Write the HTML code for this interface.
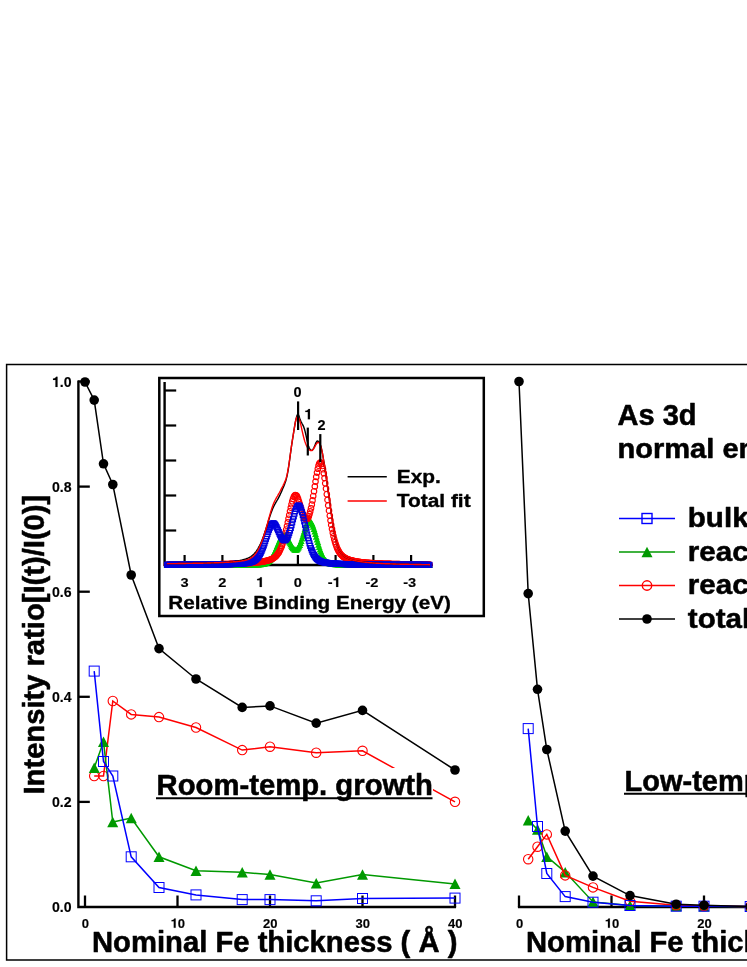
<!DOCTYPE html>
<html><head><meta charset="utf-8"><title>As 3d intensity ratio</title>
<style>html,body{margin:0;padding:0;background:#fff;}body{width:747px;height:967px;overflow:hidden;position:relative;font-family:"Liberation Sans",sans-serif;}</style>
</head><body>
<svg width="747" height="967" viewBox="0 0 747 967" style="display:block;position:absolute;left:0;top:0;will-change:transform" font-family="Liberation Sans, sans-serif" font-weight="bold" fill="#000">
<style>text{stroke:#000;stroke-width:0.55px;stroke-linejoin:round;paint-order:stroke fill}text.s{stroke-width:0.15px}text.m{stroke-width:0.35px}</style>
<rect width="747" height="967" fill="#fff"/>
<path d="M760 364.6H6.6V960.1H760" fill="none" stroke="#000" stroke-width="1.5"/>
<path d="M78.4 380.5V907H456.1" fill="none" stroke="#000" stroke-width="2.4"/>
<path d="M78 801.9H89.8" stroke="#000" stroke-width="2.3"/>
<path d="M78 696.8H89.8" stroke="#000" stroke-width="2.3"/>
<path d="M78 591.7H89.8" stroke="#000" stroke-width="2.3"/>
<path d="M78 486.6H89.8" stroke="#000" stroke-width="2.3"/>
<path d="M78 381.5H89.8" stroke="#000" stroke-width="2.3"/>
<path d="M85.0 907V895.5" stroke="#000" stroke-width="2.3"/>
<path d="M177.5 907V895.5" stroke="#000" stroke-width="2.3"/>
<path d="M270.0 907V895.5" stroke="#000" stroke-width="2.3"/>
<path d="M362.5 907V895.5" stroke="#000" stroke-width="2.3"/>
<path d="M455.0 907V895.5" stroke="#000" stroke-width="2.3"/>
<path d="M517.9 907H760" fill="none" stroke="#000" stroke-width="2.4"/>
<path d="M519.0 907V895.5" stroke="#000" stroke-width="2.3"/>
<path d="M611.5 907V895.5" stroke="#000" stroke-width="2.3"/>
<path d="M704.0 907V895.5" stroke="#000" stroke-width="2.3"/>
<text transform="translate(52.00 912.40) scale(1.000 1)" class="s" font-size="14.1">0</text><text transform="translate(59.84 912.40) scale(1.000 1)" class="s" font-size="14.1">.</text><text transform="translate(63.76 912.40) scale(1.000 1)" class="s" font-size="14.1">0</text>
<text transform="translate(52.00 807.30) scale(1.000 1)" class="s" font-size="14.1">0</text><text transform="translate(59.84 807.30) scale(1.000 1)" class="s" font-size="14.1">.</text><text transform="translate(63.76 807.30) scale(1.000 1)" class="s" font-size="14.1">2</text>
<text transform="translate(52.00 702.20) scale(1.000 1)" class="s" font-size="14.1">0</text><text transform="translate(59.84 702.20) scale(1.000 1)" class="s" font-size="14.1">.</text><text transform="translate(63.76 702.20) scale(1.000 1)" class="s" font-size="14.1">4</text>
<text transform="translate(52.00 597.10) scale(1.000 1)" class="s" font-size="14.1">0</text><text transform="translate(59.84 597.10) scale(1.000 1)" class="s" font-size="14.1">.</text><text transform="translate(63.76 597.10) scale(1.000 1)" class="s" font-size="14.1">6</text>
<text transform="translate(52.00 492.00) scale(1.000 1)" class="s" font-size="14.1">0</text><text transform="translate(59.84 492.00) scale(1.000 1)" class="s" font-size="14.1">.</text><text transform="translate(63.76 492.00) scale(1.000 1)" class="s" font-size="14.1">8</text>
<path transform="translate(52.00 386.90) scale(0.01410 -0.01410)" d="M246 0V498H72V588C176 590 262 640 288 716H392V0Z" stroke="#000" stroke-width="10" stroke-linejoin="round"/><text transform="translate(59.84 386.90) scale(1.000 1)" class="s" font-size="14.1">.</text><text transform="translate(63.76 386.90) scale(1.000 1)" class="s" font-size="14.1">0</text>
<text transform="translate(81.69 927.80) scale(1.000 1)" class="s" font-size="13">0</text>
<path transform="translate(170.57 927.80) scale(0.01300 -0.01300)" d="M246 0V498H72V588C176 590 262 640 288 716H392V0Z" stroke="#000" stroke-width="11" stroke-linejoin="round"/><text transform="translate(177.80 927.80) scale(1.000 1)" class="s" font-size="13">0</text>
<text transform="translate(263.07 927.80) scale(1.000 1)" class="s" font-size="13">2</text><text transform="translate(270.30 927.80) scale(1.000 1)" class="s" font-size="13">0</text>
<text transform="translate(355.57 927.80) scale(1.000 1)" class="s" font-size="13">3</text><text transform="translate(362.80 927.80) scale(1.000 1)" class="s" font-size="13">0</text>
<text transform="translate(448.07 927.80) scale(1.000 1)" class="s" font-size="13">4</text><text transform="translate(455.30 927.80) scale(1.000 1)" class="s" font-size="13">0</text>
<text transform="translate(515.89 927.80) scale(1.000 1)" class="s" font-size="13">0</text>
<path transform="translate(604.77 927.80) scale(0.01300 -0.01300)" d="M246 0V498H72V588C176 590 262 640 288 716H392V0Z" stroke="#000" stroke-width="11" stroke-linejoin="round"/><text transform="translate(612.00 927.80) scale(1.000 1)" class="s" font-size="13">0</text>
<text transform="translate(697.27 927.80) scale(1.000 1)" class="s" font-size="13">2</text><text transform="translate(704.50 927.80) scale(1.000 1)" class="s" font-size="13">0</text>
<polyline fill="none" stroke="#000" stroke-width="1.5" points="85.0,382.0 94.2,400.1 103.5,463.8 112.8,484.5 131.2,575.0 159.0,648.6 196.0,679.0 242.2,707.4 270.0,705.9 316.2,723.1 362.5,710.4 455.0,770.0"/>
<circle cx="85.0" cy="382.0" r="4.8" fill="#000"/><circle cx="94.2" cy="400.1" r="4.8" fill="#000"/><circle cx="103.5" cy="463.8" r="4.8" fill="#000"/><circle cx="112.8" cy="484.5" r="4.8" fill="#000"/><circle cx="131.2" cy="575.0" r="4.8" fill="#000"/><circle cx="159.0" cy="648.6" r="4.8" fill="#000"/><circle cx="196.0" cy="679.0" r="4.8" fill="#000"/><circle cx="242.2" cy="707.4" r="4.8" fill="#000"/><circle cx="270.0" cy="705.9" r="4.8" fill="#000"/><circle cx="316.2" cy="723.1" r="4.8" fill="#000"/><circle cx="362.5" cy="710.4" r="4.8" fill="#000"/><circle cx="455.0" cy="770.0" r="4.8" fill="#000"/>
<polyline fill="none" stroke="#ff0000" stroke-width="1.5" points="94.2,776.0 103.5,776.0 112.8,701.0 131.2,714.4 159.0,717.1 196.0,727.5 242.2,750.1 270.0,746.7 316.2,752.7 362.5,750.8 455.0,801.8"/>
<circle cx="94.2" cy="776.0" r="4.7" fill="none" stroke="#ff0000" stroke-width="1.1"/><circle cx="103.5" cy="776.0" r="4.7" fill="none" stroke="#ff0000" stroke-width="1.1"/><circle cx="112.8" cy="701.0" r="4.7" fill="none" stroke="#ff0000" stroke-width="1.1"/><circle cx="131.2" cy="714.4" r="4.7" fill="none" stroke="#ff0000" stroke-width="1.1"/><circle cx="159.0" cy="717.1" r="4.7" fill="none" stroke="#ff0000" stroke-width="1.1"/><circle cx="196.0" cy="727.5" r="4.7" fill="none" stroke="#ff0000" stroke-width="1.1"/><circle cx="242.2" cy="750.1" r="4.7" fill="none" stroke="#ff0000" stroke-width="1.1"/><circle cx="270.0" cy="746.7" r="4.7" fill="none" stroke="#ff0000" stroke-width="1.1"/><circle cx="316.2" cy="752.7" r="4.7" fill="none" stroke="#ff0000" stroke-width="1.1"/><circle cx="362.5" cy="750.8" r="4.7" fill="none" stroke="#ff0000" stroke-width="1.1"/><circle cx="455.0" cy="801.8" r="4.7" fill="none" stroke="#ff0000" stroke-width="1.1"/>
<polyline fill="none" stroke="#009900" stroke-width="1.5" points="94.2,767.8 103.5,741.8 112.8,822.0 131.2,818.0 159.0,856.8 196.0,870.8 242.2,872.3 270.0,874.5 316.2,883.1 362.5,874.5 455.0,883.9"/>
<path d="M94.2 762.5L99.8 773.0L88.8 773.0Z" fill="#009900"/><path d="M103.5 736.5L109.0 747.0L98.0 747.0Z" fill="#009900"/><path d="M112.8 816.8L118.2 827.2L107.2 827.2Z" fill="#009900"/><path d="M131.2 812.8L136.8 823.2L125.8 823.2Z" fill="#009900"/><path d="M159.0 851.5L164.5 862.0L153.5 862.0Z" fill="#009900"/><path d="M196.0 865.5L201.5 876.0L190.5 876.0Z" fill="#009900"/><path d="M242.2 867.0L247.8 877.5L236.8 877.5Z" fill="#009900"/><path d="M270.0 869.2L275.5 879.8L264.5 879.8Z" fill="#009900"/><path d="M316.2 877.9L321.8 888.4L310.8 888.4Z" fill="#009900"/><path d="M362.5 869.2L368.0 879.8L357.0 879.8Z" fill="#009900"/><path d="M455.0 878.6L460.5 889.1L449.5 889.1Z" fill="#009900"/>
<polyline fill="none" stroke="#0000ff" stroke-width="1.5" points="94.2,671.1 103.5,761.5 112.8,776.0 131.2,856.8 159.0,887.5 196.0,894.9 242.2,899.6 270.0,899.6 316.2,900.8 362.5,898.5 455.0,898.1"/>
<rect x="89.2" y="666.1" width="10" height="10" fill="none" stroke="#0000ff" stroke-width="1"/><rect x="98.5" y="756.5" width="10" height="10" fill="none" stroke="#0000ff" stroke-width="1"/><rect x="107.8" y="771.0" width="10" height="10" fill="none" stroke="#0000ff" stroke-width="1"/><rect x="126.2" y="851.8" width="10" height="10" fill="none" stroke="#0000ff" stroke-width="1"/><rect x="154.0" y="882.5" width="10" height="10" fill="none" stroke="#0000ff" stroke-width="1"/><rect x="191.0" y="889.9" width="10" height="10" fill="none" stroke="#0000ff" stroke-width="1"/><rect x="237.2" y="894.6" width="10" height="10" fill="none" stroke="#0000ff" stroke-width="1"/><rect x="265.0" y="894.6" width="10" height="10" fill="none" stroke="#0000ff" stroke-width="1"/><rect x="311.2" y="895.8" width="10" height="10" fill="none" stroke="#0000ff" stroke-width="1"/><rect x="357.5" y="893.5" width="10" height="10" fill="none" stroke="#0000ff" stroke-width="1"/><rect x="450.0" y="893.1" width="10" height="10" fill="none" stroke="#0000ff" stroke-width="1"/>
<polyline fill="none" stroke="#009900" stroke-width="1.5" points="528.2,820.2 537.5,829.5 546.8,856.6 565.2,872.1 593.0,901.9 630.0,905.5 676.2,906.0 704.0,906.3 750.2,906.5"/>
<path d="M528.2 815.0L533.8 825.5L522.8 825.5Z" fill="#009900"/><path d="M537.5 824.2L543.0 834.8L532.0 834.8Z" fill="#009900"/><path d="M546.8 851.4L552.2 861.9L541.2 861.9Z" fill="#009900"/><path d="M565.2 866.9L570.8 877.4L559.8 877.4Z" fill="#009900"/><path d="M593.0 896.6L598.5 907.1L587.5 907.1Z" fill="#009900"/><path d="M630.0 900.2L635.5 910.8L624.5 910.8Z" fill="#009900"/><path d="M676.2 900.8L681.8 911.2L670.8 911.2Z" fill="#009900"/><path d="M704.0 901.0L709.5 911.5L698.5 911.5Z" fill="#009900"/><path d="M750.2 901.2L755.8 911.8L744.8 911.8Z" fill="#009900"/>
<polyline fill="none" stroke="#ff0000" stroke-width="1.5" points="528.2,859.2 537.5,846.7 546.8,834.4 565.2,875.4 593.0,887.4 630.0,901.2 676.2,905.2 704.0,906.0 750.2,906.5"/>
<circle cx="528.2" cy="859.2" r="4.7" fill="none" stroke="#ff0000" stroke-width="1.1"/><circle cx="537.5" cy="846.7" r="4.7" fill="none" stroke="#ff0000" stroke-width="1.1"/><circle cx="546.8" cy="834.4" r="4.7" fill="none" stroke="#ff0000" stroke-width="1.1"/><circle cx="565.2" cy="875.4" r="4.7" fill="none" stroke="#ff0000" stroke-width="1.1"/><circle cx="593.0" cy="887.4" r="4.7" fill="none" stroke="#ff0000" stroke-width="1.1"/><circle cx="630.0" cy="901.2" r="4.7" fill="none" stroke="#ff0000" stroke-width="1.1"/><circle cx="676.2" cy="905.2" r="4.7" fill="none" stroke="#ff0000" stroke-width="1.1"/><circle cx="704.0" cy="906.0" r="4.7" fill="none" stroke="#ff0000" stroke-width="1.1"/><circle cx="750.2" cy="906.5" r="4.7" fill="none" stroke="#ff0000" stroke-width="1.1"/>
<polyline fill="none" stroke="#0000ff" stroke-width="1.5" points="528.2,728.6 537.5,826.5 546.8,873.5 565.2,896.6 593.0,902.2 630.0,905.5 676.2,906.2 704.0,906.2 750.2,906.5"/>
<rect x="523.2" y="723.6" width="10" height="10" fill="none" stroke="#0000ff" stroke-width="1"/><rect x="532.5" y="821.5" width="10" height="10" fill="none" stroke="#0000ff" stroke-width="1"/><rect x="541.8" y="868.5" width="10" height="10" fill="none" stroke="#0000ff" stroke-width="1"/><rect x="560.2" y="891.6" width="10" height="10" fill="none" stroke="#0000ff" stroke-width="1"/><rect x="588.0" y="897.2" width="10" height="10" fill="none" stroke="#0000ff" stroke-width="1"/><rect x="625.0" y="900.5" width="10" height="10" fill="none" stroke="#0000ff" stroke-width="1"/><rect x="671.2" y="901.2" width="10" height="10" fill="none" stroke="#0000ff" stroke-width="1"/><rect x="699.0" y="901.2" width="10" height="10" fill="none" stroke="#0000ff" stroke-width="1"/><rect x="745.2" y="901.5" width="10" height="10" fill="none" stroke="#0000ff" stroke-width="1"/>
<polyline fill="none" stroke="#000" stroke-width="1.5" points="519.0,381.5 528.2,593.6 537.5,689.3 546.8,749.5 565.2,831.1 593.0,876.1 630.0,895.6 676.2,904.2 704.0,905.2 750.2,906.5"/>
<circle cx="519.0" cy="381.5" r="4.8" fill="#000"/><circle cx="528.2" cy="593.6" r="4.8" fill="#000"/><circle cx="537.5" cy="689.3" r="4.8" fill="#000"/><circle cx="546.8" cy="749.5" r="4.8" fill="#000"/><circle cx="565.2" cy="831.1" r="4.8" fill="#000"/><circle cx="593.0" cy="876.1" r="4.8" fill="#000"/><circle cx="630.0" cy="895.6" r="4.8" fill="#000"/><circle cx="676.2" cy="904.2" r="4.8" fill="#000"/><circle cx="704.0" cy="905.2" r="4.8" fill="#000"/><circle cx="750.2" cy="906.5" r="4.8" fill="#000"/>
<text transform="translate(92 951.5) scale(1.008 1)" font-size="29">Nominal Fe thickness ( Å )</text>
<text transform="translate(526 951.5) scale(1.008 1)" font-size="29">Nominal Fe thickness ( Å )</text>
<text transform="translate(43.8 794.5) rotate(-90) scale(1.006 1)" font-size="29">Intensity ratio[I(t)/I(0)]</text>
<rect x="155" y="768" width="278" height="33" fill="#fff"/>
<text transform="translate(156.5 795.2) scale(1.01 1)" font-size="29">Room-temp. growth</text>
<path d="M156 798.3H432.5" stroke="#000" stroke-width="2"/>
<text x="624.5" y="790.7" font-size="29">Low-temp. growth</text>
<path d="M624 793.7H760" stroke="#000" stroke-width="2"/>
<text x="617.5" y="424.8" font-size="29">As 3d</text>
<text transform="translate(617.5 457.8) scale(1.02 1)" font-size="28.5">normal emission</text>
<path d="M619 518.5H675" stroke="#0000ff" stroke-width="1.4"/>
<rect x="642.0" y="513.5" width="10" height="10" fill="none" stroke="#0000ff" stroke-width="1.4"/>
<text transform="translate(687.8 527.4) scale(1.045 1)" font-size="28.3">bulk</text>
<path d="M619 552.0H675" stroke="#009900" stroke-width="1.4"/>
<path d="M647.0 546.8L652.5 557.2L641.5 557.2Z" fill="#009900"/>
<text transform="translate(687.8 560.9) scale(1.045 1)" font-size="28.3">reacted 1</text>
<path d="M619 585.5H675" stroke="#ff0000" stroke-width="1.4"/>
<circle cx="647.0" cy="585.5" r="4.7" fill="none" stroke="#ff0000" stroke-width="1.4"/>
<text transform="translate(687.8 594.4) scale(1.045 1)" font-size="28.3">reacted 2</text>
<path d="M619 619.0H675" stroke="#000" stroke-width="1.4"/>
<circle cx="647.0" cy="619.0" r="4.8" fill="#000"/>
<text transform="translate(687.8 627.9) scale(1.045 1)" font-size="28.3">total</text>
<rect x="159.3" y="378" width="324.5" height="238" fill="#fff" stroke="#000" stroke-width="2.5"/>
<defs><marker id="mt" markerWidth="8" markerHeight="8" refX="4" refY="4" markerUnits="userSpaceOnUse"><path d="M4 0.8L7.4 7H0.6Z" fill="#00cc00"/></marker><marker id="mc" markerWidth="8" markerHeight="8" refX="4" refY="4" markerUnits="userSpaceOnUse"><circle cx="4" cy="4" r="2.75" fill="none" stroke="#ff0000" stroke-width="1.15"/></marker><marker id="ms" markerWidth="8" markerHeight="8" refX="4" refY="4" markerUnits="userSpaceOnUse"><rect x="1.5" y="1.5" width="5" height="5" fill="none" stroke="#0000dd" stroke-width="1.1"/></marker></defs>
<path d="M164.6 382V565H433" fill="none" stroke="#000" stroke-width="2.4"/>
<path d="M164 390.5H176.2" stroke="#000" stroke-width="2.2"/>
<path d="M164 425.5H176.2" stroke="#000" stroke-width="2.2"/>
<path d="M164 460.5H176.2" stroke="#000" stroke-width="2.2"/>
<path d="M164 495.5H176.2" stroke="#000" stroke-width="2.2"/>
<path d="M164 530.5H176.2" stroke="#000" stroke-width="2.2"/>
<path d="M184.6 565V555" stroke="#000" stroke-width="2.2"/>
<text transform="translate(180.59 586.90) scale(1.090 1)" class="s" font-size="13.4">3</text>
<path d="M222.4 565V555" stroke="#000" stroke-width="2.2"/>
<text transform="translate(218.34 586.90) scale(1.090 1)" class="s" font-size="13.4">2</text>
<path d="M260.1 565V555" stroke="#000" stroke-width="2.2"/>
<path transform="translate(256.09 586.90) scale(0.01461 -0.01340)" d="M246 0V498H72V588C176 590 262 640 288 716H392V0Z" stroke="#000" stroke-width="11" stroke-linejoin="round"/>
<path d="M297.9 565V555" stroke="#000" stroke-width="2.2"/>
<text transform="translate(293.84 586.90) scale(1.090 1)" class="s" font-size="13.4">0</text>
<path d="M335.6 565V555" stroke="#000" stroke-width="2.2"/>
<text transform="translate(327.66 586.90) scale(1.090 1)" class="s" font-size="13.4">-</text><path transform="translate(332.52 586.90) scale(0.01461 -0.01340)" d="M246 0V498H72V588C176 590 262 640 288 716H392V0Z" stroke="#000" stroke-width="11" stroke-linejoin="round"/>
<path d="M373.4 565V555" stroke="#000" stroke-width="2.2"/>
<text transform="translate(365.41 586.90) scale(1.090 1)" class="s" font-size="13.4">-</text><text transform="translate(370.27 586.90) scale(1.090 1)" class="s" font-size="13.4">2</text>
<path d="M411.1 565V555" stroke="#000" stroke-width="2.2"/>
<text transform="translate(403.16 586.90) scale(1.090 1)" class="s" font-size="13.4">-</text><text transform="translate(408.02 586.90) scale(1.090 1)" class="s" font-size="13.4">3</text>
<polyline fill="none" stroke="none" points="167.0,565.0 167.8,565.0 168.5,565.0 169.2,565.0 170.0,565.0 170.8,565.0 171.5,565.0 172.2,565.0 173.0,565.0 173.8,564.9 174.5,564.9 175.2,564.9 176.0,564.9 176.8,564.9 177.5,564.9 178.2,564.9 179.0,564.9 179.8,564.9 180.5,564.9 181.2,564.9 182.0,564.9 182.8,564.9 183.5,564.9 184.2,564.9 185.0,564.9 185.8,564.9 186.5,564.9 187.2,564.9 188.0,564.9 188.8,564.9 189.5,564.9 190.2,564.9 191.0,564.9 191.8,564.9 192.5,564.9 193.2,564.9 194.0,564.9 194.8,564.9 195.5,564.9 196.2,564.9 197.0,564.9 197.8,564.9 198.5,564.9 199.2,564.9 200.0,564.9 200.8,564.9 201.5,564.9 202.2,564.9 203.0,564.9 203.8,564.9 204.5,564.9 205.2,564.9 206.0,564.9 206.8,564.9 207.5,564.9 208.2,564.9 209.0,564.9 209.8,564.9 210.5,564.9 211.2,564.9 212.0,564.9 212.8,564.9 213.5,564.9 214.2,564.9 215.0,564.9 215.8,564.9 216.5,564.9 217.2,564.9 218.0,564.9 218.8,564.9 219.5,564.9 220.2,564.9 221.0,564.9 221.8,564.9 222.5,564.9 223.2,564.9 224.0,564.9 224.8,564.9 225.5,564.8 226.2,564.8 227.0,564.8 227.8,564.8 228.5,564.8 229.2,564.8 230.0,564.8 230.8,564.8 231.5,564.8 232.2,564.8 233.0,564.8 233.8,564.8 234.5,564.8 235.2,564.8 236.0,564.8 236.8,564.8 237.5,564.8 238.2,564.8 239.0,564.8 239.8,564.8 240.5,564.7 241.2,564.7 242.0,564.7 242.8,564.7 243.5,564.7 244.2,564.7 245.0,564.7 245.8,564.7 246.5,564.7 247.2,564.7 248.0,564.7 248.8,564.6 249.5,564.6 250.2,564.6 251.0,564.6 251.8,564.6 252.5,564.6 253.2,564.6 254.0,564.5 254.8,564.5 255.5,564.5 256.2,564.5 257.0,564.4 257.8,564.4 258.5,564.4 259.2,564.3 260.0,564.3 260.8,564.2 261.5,564.1 262.2,564.0 263.0,563.9 263.8,563.7 264.5,563.5 265.2,563.3 266.0,563.0 266.8,562.6 267.5,562.1 268.2,561.6 269.0,561.0 269.8,560.2 270.5,559.4 271.2,558.4 272.0,557.2 272.8,556.0 273.5,554.6 274.2,553.1 275.0,551.4 275.8,549.7 276.5,547.9 277.2,546.1 278.0,544.3 278.8,542.5 279.5,540.8 280.2,539.3 281.0,537.9 281.8,536.8 282.5,535.9 283.2,535.4 284.0,535.2 284.8,535.3 285.5,535.7 286.2,536.4 287.0,537.4 287.8,538.6 288.5,539.9 289.2,541.4 290.0,542.8 290.8,544.3 291.5,545.7 292.2,546.9 293.0,548.0 293.8,548.8 294.5,549.4 295.2,549.7 296.0,549.7 296.8,549.4 297.5,548.7 298.2,547.8 299.0,546.5 299.8,544.9 300.5,543.0 301.2,540.9 302.0,538.6 302.8,536.2 303.5,533.8 304.2,531.4 305.0,529.0 305.8,526.8 306.5,524.9 307.2,523.3 308.0,522.1 308.8,521.3 309.5,521.0 310.2,521.3 311.0,522.0 311.8,523.2 312.5,524.8 313.2,526.7 314.0,529.0 314.8,531.5 315.5,534.1 316.2,536.8 317.0,539.5 317.8,542.1 318.5,544.7 319.2,547.1 320.0,549.4 320.8,551.5 321.5,553.4 322.2,555.1 323.0,556.6 323.8,557.9 324.5,559.1 325.2,560.0 326.0,560.8 326.8,561.5 327.5,562.1 328.2,562.5 329.0,562.9 329.8,563.2 330.5,563.4 331.2,563.6 332.0,563.8 332.8,563.9 333.5,564.0 334.2,564.1 335.0,564.2 335.8,564.2 336.5,564.3 337.2,564.3 338.0,564.4 338.8,564.4 339.5,564.4 340.2,564.4 341.0,564.5 341.8,564.5 342.5,564.5 343.2,564.5 344.0,564.5 344.8,564.6 345.5,564.6 346.2,564.6 347.0,564.6 347.8,564.6 348.5,564.6 349.2,564.6 350.0,564.7 350.8,564.7 351.5,564.7 352.2,564.7 353.0,564.7 353.8,564.7 354.5,564.7 355.2,564.7 356.0,564.7 356.8,564.7 357.5,564.7 358.2,564.8 359.0,564.8 359.8,564.8 360.5,564.8 361.2,564.8 362.0,564.8 362.8,564.8 363.5,564.8 364.2,564.8 365.0,564.8 365.8,564.8 366.5,564.8 367.2,564.8 368.0,564.8 368.8,564.8 369.5,564.8 370.2,564.8 371.0,564.8 371.8,564.8 372.5,564.8 373.2,564.8 374.0,564.9 374.8,564.9 375.5,564.9 376.2,564.9 377.0,564.9 377.8,564.9 378.5,564.9 379.2,564.9 380.0,564.9 380.8,564.9 381.5,564.9 382.2,564.9 383.0,564.9 383.8,564.9 384.5,564.9 385.2,564.9 386.0,564.9 386.8,564.9 387.5,564.9 388.2,564.9 389.0,564.9 389.8,564.9 390.5,564.9 391.2,564.9 392.0,564.9 392.8,564.9 393.5,564.9 394.2,564.9 395.0,564.9 395.8,564.9 396.5,564.9 397.2,564.9 398.0,564.9 398.8,564.9 399.5,564.9 400.2,564.9 401.0,564.9 401.8,564.9 402.5,564.9 403.2,564.9 404.0,564.9 404.8,564.9 405.5,564.9 406.2,564.9 407.0,564.9 407.8,564.9 408.5,564.9 409.2,564.9 410.0,564.9 410.8,564.9 411.5,564.9 412.2,564.9 413.0,564.9 413.8,564.9 414.5,564.9 415.2,564.9 416.0,564.9 416.8,564.9 417.5,564.9 418.2,564.9 419.0,564.9 419.8,564.9 420.5,564.9 421.2,564.9 422.0,564.9 422.8,564.9 423.5,564.9 424.2,564.9 425.0,565.0 425.8,565.0 426.5,565.0 427.2,565.0 428.0,565.0 428.8,565.0 429.5,565.0" marker-start="url(#mt)" marker-mid="url(#mt)" marker-end="url(#mt)"/>
<polyline fill="none" stroke="none" points="167.0,564.7 167.8,564.7 168.5,564.7 169.2,564.7 170.0,564.7 170.8,564.7 171.5,564.7 172.2,564.7 173.0,564.7 173.8,564.6 174.5,564.6 175.2,564.6 176.0,564.6 176.8,564.6 177.5,564.6 178.2,564.6 179.0,564.6 179.8,564.6 180.5,564.6 181.2,564.6 182.0,564.6 182.8,564.6 183.5,564.6 184.2,564.6 185.0,564.6 185.8,564.6 186.5,564.6 187.2,564.6 188.0,564.6 188.8,564.6 189.5,564.5 190.2,564.5 191.0,564.5 191.8,564.5 192.5,564.5 193.2,564.5 194.0,564.5 194.8,564.5 195.5,564.5 196.2,564.5 197.0,564.5 197.8,564.5 198.5,564.5 199.2,564.5 200.0,564.5 200.8,564.4 201.5,564.4 202.2,564.4 203.0,564.4 203.8,564.4 204.5,564.4 205.2,564.4 206.0,564.4 206.8,564.4 207.5,564.4 208.2,564.4 209.0,564.3 209.8,564.3 210.5,564.3 211.2,564.3 212.0,564.3 212.8,564.3 213.5,564.3 214.2,564.3 215.0,564.3 215.8,564.2 216.5,564.2 217.2,564.2 218.0,564.2 218.8,564.2 219.5,564.2 220.2,564.2 221.0,564.1 221.8,564.1 222.5,564.1 223.2,564.1 224.0,564.1 224.8,564.1 225.5,564.1 226.2,564.0 227.0,564.0 227.8,564.0 228.5,564.0 229.2,564.0 230.0,563.9 230.8,563.9 231.5,563.9 232.2,563.9 233.0,563.8 233.8,563.8 234.5,563.8 235.2,563.8 236.0,563.7 236.8,563.7 237.5,563.7 238.2,563.7 239.0,563.6 239.8,563.6 240.5,563.6 241.2,563.5 242.0,563.5 242.8,563.5 243.5,563.4 244.2,563.4 245.0,563.3 245.8,563.3 246.5,563.3 247.2,563.2 248.0,563.2 248.8,563.1 249.5,563.1 250.2,563.0 251.0,562.9 251.8,562.9 252.5,562.8 253.2,562.8 254.0,562.7 254.8,562.6 255.5,562.5 256.2,562.5 257.0,562.4 257.8,562.3 258.5,562.2 259.2,562.1 260.0,562.0 260.8,561.9 261.5,561.8 262.2,561.7 263.0,561.5 263.8,561.4 264.5,561.3 265.2,561.1 266.0,560.9 266.8,560.8 267.5,560.6 268.2,560.4 269.0,560.1 269.8,559.9 270.5,559.6 271.2,559.3 272.0,558.9 272.8,558.5 273.5,558.1 274.2,557.6 275.0,557.0 275.8,556.3 276.5,555.5 277.2,554.6 278.0,553.6 278.8,552.4 279.5,551.0 280.2,549.5 281.0,547.8 281.8,545.9 282.5,543.7 283.2,541.3 284.0,538.7 284.8,535.8 285.5,532.8 286.2,529.5 287.0,526.0 287.8,522.4 288.5,518.7 289.2,515.0 290.0,511.3 290.8,507.7 291.5,504.3 292.2,501.3 293.0,498.8 293.8,496.9 294.5,495.6 295.2,495.0 296.0,495.2 296.8,496.0 297.5,497.5 298.2,499.4 299.0,501.7 299.8,504.3 300.5,506.9 301.2,509.5 302.0,511.9 302.8,514.1 303.5,516.0 304.2,517.6 305.0,518.7 305.8,519.3 306.5,519.3 307.2,518.9 308.0,517.9 308.8,516.3 309.5,514.1 310.2,511.4 311.0,508.2 311.8,504.5 312.5,500.4 313.2,496.0 314.0,491.3 314.8,486.4 315.5,481.6 316.2,476.9 317.0,472.6 317.8,468.8 318.5,465.7 319.2,463.6 320.0,462.5 320.8,462.5 321.5,463.7 322.2,466.0 323.0,469.2 323.8,473.3 324.5,478.1 325.2,483.3 326.0,488.7 326.8,494.3 327.5,499.9 328.2,505.4 329.0,510.7 329.8,515.8 330.5,520.6 331.2,525.0 332.0,529.1 332.8,532.9 333.5,536.3 334.2,539.3 335.0,542.1 335.8,544.5 336.5,546.6 337.2,548.5 338.0,550.1 338.8,551.5 339.5,552.7 340.2,553.8 341.0,554.7 341.8,555.5 342.5,556.2 343.2,556.8 344.0,557.4 344.8,557.8 345.5,558.3 346.2,558.6 347.0,559.0 347.8,559.3 348.5,559.5 349.2,559.8 350.0,560.0 350.8,560.2 351.5,560.4 352.2,560.6 353.0,560.8 353.8,561.0 354.5,561.1 355.2,561.3 356.0,561.4 356.8,561.5 357.5,561.7 358.2,561.8 359.0,561.9 359.8,562.0 360.5,562.1 361.2,562.2 362.0,562.3 362.8,562.3 363.5,562.4 364.2,562.5 365.0,562.6 365.8,562.7 366.5,562.7 367.2,562.8 368.0,562.8 368.8,562.9 369.5,563.0 370.2,563.0 371.0,563.1 371.8,563.1 372.5,563.2 373.2,563.2 374.0,563.3 374.8,563.3 375.5,563.3 376.2,563.4 377.0,563.4 377.8,563.5 378.5,563.5 379.2,563.5 380.0,563.6 380.8,563.6 381.5,563.6 382.2,563.7 383.0,563.7 383.8,563.7 384.5,563.7 385.2,563.8 386.0,563.8 386.8,563.8 387.5,563.8 388.2,563.9 389.0,563.9 389.8,563.9 390.5,563.9 391.2,564.0 392.0,564.0 392.8,564.0 393.5,564.0 394.2,564.0 395.0,564.1 395.8,564.1 396.5,564.1 397.2,564.1 398.0,564.1 398.8,564.1 399.5,564.1 400.2,564.2 401.0,564.2 401.8,564.2 402.5,564.2 403.2,564.2 404.0,564.2 404.8,564.2 405.5,564.3 406.2,564.3 407.0,564.3 407.8,564.3 408.5,564.3 409.2,564.3 410.0,564.3 410.8,564.3 411.5,564.3 412.2,564.4 413.0,564.4 413.8,564.4 414.5,564.4 415.2,564.4 416.0,564.4 416.8,564.4 417.5,564.4 418.2,564.4 419.0,564.4 419.8,564.4 420.5,564.4 421.2,564.5 422.0,564.5 422.8,564.5 423.5,564.5 424.2,564.5 425.0,564.5 425.8,564.5 426.5,564.5 427.2,564.5 428.0,564.5 428.8,564.5 429.5,564.5" marker-start="url(#mc)" marker-mid="url(#mc)" marker-end="url(#mc)"/>
<polyline fill="none" stroke="none" points="167.0,564.8 167.8,564.8 168.5,564.8 169.2,564.8 170.0,564.8 170.8,564.8 171.5,564.8 172.2,564.8 173.0,564.8 173.8,564.8 174.5,564.8 175.2,564.8 176.0,564.8 176.8,564.8 177.5,564.8 178.2,564.8 179.0,564.8 179.8,564.8 180.5,564.8 181.2,564.8 182.0,564.8 182.8,564.8 183.5,564.8 184.2,564.7 185.0,564.7 185.8,564.7 186.5,564.7 187.2,564.7 188.0,564.7 188.8,564.7 189.5,564.7 190.2,564.7 191.0,564.7 191.8,564.7 192.5,564.7 193.2,564.7 194.0,564.7 194.8,564.7 195.5,564.7 196.2,564.7 197.0,564.7 197.8,564.7 198.5,564.7 199.2,564.7 200.0,564.6 200.8,564.6 201.5,564.6 202.2,564.6 203.0,564.6 203.8,564.6 204.5,564.6 205.2,564.6 206.0,564.6 206.8,564.6 207.5,564.6 208.2,564.6 209.0,564.6 209.8,564.5 210.5,564.5 211.2,564.5 212.0,564.5 212.8,564.5 213.5,564.5 214.2,564.5 215.0,564.5 215.8,564.5 216.5,564.4 217.2,564.4 218.0,564.4 218.8,564.4 219.5,564.4 220.2,564.4 221.0,564.4 221.8,564.3 222.5,564.3 223.2,564.3 224.0,564.3 224.8,564.3 225.5,564.3 226.2,564.2 227.0,564.2 227.8,564.2 228.5,564.2 229.2,564.2 230.0,564.1 230.8,564.1 231.5,564.1 232.2,564.0 233.0,564.0 233.8,564.0 234.5,564.0 235.2,563.9 236.0,563.9 236.8,563.8 237.5,563.8 238.2,563.8 239.0,563.7 239.8,563.7 240.5,563.6 241.2,563.6 242.0,563.5 242.8,563.4 243.5,563.4 244.2,563.3 245.0,563.2 245.8,563.1 246.5,563.0 247.2,562.9 248.0,562.8 248.8,562.7 249.5,562.5 250.2,562.3 251.0,562.1 251.8,561.9 252.5,561.6 253.2,561.3 254.0,560.9 254.8,560.4 255.5,559.8 256.2,559.2 257.0,558.4 257.8,557.6 258.5,556.6 259.2,555.4 260.0,554.2 260.8,552.7 261.5,551.1 262.2,549.4 263.0,547.5 263.8,545.5 264.5,543.3 265.2,541.1 266.0,538.8 266.8,536.4 267.5,534.1 268.2,531.9 269.0,529.8 269.8,527.8 270.5,526.2 271.2,524.9 272.0,523.9 272.8,523.4 273.5,523.3 274.2,523.7 275.0,524.5 275.8,525.6 276.5,527.0 277.2,528.5 278.0,530.2 278.8,532.0 279.5,533.7 280.2,535.3 281.0,536.8 281.8,538.1 282.5,539.1 283.2,539.8 284.0,540.2 284.8,540.3 285.5,540.0 286.2,539.3 287.0,538.3 287.8,536.8 288.5,535.1 289.2,533.0 290.0,530.6 290.8,528.0 291.5,525.2 292.2,522.3 293.0,519.3 293.8,516.4 294.5,513.6 295.2,511.1 296.0,508.9 296.8,507.2 297.5,506.1 298.2,505.5 299.0,505.6 299.8,506.4 300.5,507.8 301.2,509.8 302.0,512.2 302.8,515.1 303.5,518.2 304.2,521.4 305.0,524.8 305.8,528.2 306.5,531.5 307.2,534.7 308.0,537.8 308.8,540.7 309.5,543.4 310.2,545.9 311.0,548.2 311.8,550.2 312.5,552.0 313.2,553.6 314.0,555.0 314.8,556.3 315.5,557.3 316.2,558.2 317.0,559.0 317.8,559.6 318.5,560.2 319.2,560.6 320.0,561.0 320.8,561.4 321.5,561.7 322.2,561.9 323.0,562.1 323.8,562.3 324.5,562.4 325.2,562.6 326.0,562.7 326.8,562.8 327.5,562.9 328.2,563.0 329.0,563.1 329.8,563.2 330.5,563.3 331.2,563.3 332.0,563.4 332.8,563.5 333.5,563.5 334.2,563.6 335.0,563.6 335.8,563.7 336.5,563.7 337.2,563.8 338.0,563.8 338.8,563.8 339.5,563.9 340.2,563.9 341.0,563.9 341.8,564.0 342.5,564.0 343.2,564.0 344.0,564.1 344.8,564.1 345.5,564.1 346.2,564.1 347.0,564.2 347.8,564.2 348.5,564.2 349.2,564.2 350.0,564.3 350.8,564.3 351.5,564.3 352.2,564.3 353.0,564.3 353.8,564.3 354.5,564.4 355.2,564.4 356.0,564.4 356.8,564.4 357.5,564.4 358.2,564.4 359.0,564.4 359.8,564.5 360.5,564.5 361.2,564.5 362.0,564.5 362.8,564.5 363.5,564.5 364.2,564.5 365.0,564.5 365.8,564.5 366.5,564.5 367.2,564.6 368.0,564.6 368.8,564.6 369.5,564.6 370.2,564.6 371.0,564.6 371.8,564.6 372.5,564.6 373.2,564.6 374.0,564.6 374.8,564.6 375.5,564.6 376.2,564.6 377.0,564.7 377.8,564.7 378.5,564.7 379.2,564.7 380.0,564.7 380.8,564.7 381.5,564.7 382.2,564.7 383.0,564.7 383.8,564.7 384.5,564.7 385.2,564.7 386.0,564.7 386.8,564.7 387.5,564.7 388.2,564.7 389.0,564.7 389.8,564.7 390.5,564.7 391.2,564.7 392.0,564.7 392.8,564.8 393.5,564.8 394.2,564.8 395.0,564.8 395.8,564.8 396.5,564.8 397.2,564.8 398.0,564.8 398.8,564.8 399.5,564.8 400.2,564.8 401.0,564.8 401.8,564.8 402.5,564.8 403.2,564.8 404.0,564.8 404.8,564.8 405.5,564.8 406.2,564.8 407.0,564.8 407.8,564.8 408.5,564.8 409.2,564.8 410.0,564.8 410.8,564.8 411.5,564.8 412.2,564.8 413.0,564.8 413.8,564.8 414.5,564.8 415.2,564.8 416.0,564.8 416.8,564.8 417.5,564.8 418.2,564.8 419.0,564.8 419.8,564.8 420.5,564.8 421.2,564.8 422.0,564.9 422.8,564.9 423.5,564.9 424.2,564.9 425.0,564.9 425.8,564.9 426.5,564.9 427.2,564.9 428.0,564.9 428.8,564.9 429.5,564.9" marker-start="url(#ms)" marker-mid="url(#ms)" marker-end="url(#ms)"/>
<polyline fill="none" stroke="#000" stroke-width="1.4" points="167.0,563.7 167.5,563.6 168.0,563.6 168.5,563.6 169.0,563.6 169.5,563.6 170.0,563.6 170.5,563.6 171.0,563.6 171.5,563.6 172.0,563.6 172.5,563.6 173.0,563.6 173.5,563.6 174.0,563.6 174.5,563.6 175.0,563.6 175.5,563.6 176.0,563.6 176.5,563.6 177.0,563.6 177.5,563.6 178.0,563.5 178.5,563.5 179.0,563.5 179.5,563.5 180.0,563.5 180.5,563.5 181.0,563.5 181.5,563.5 182.0,563.5 182.5,563.5 183.0,563.5 183.5,563.5 184.0,563.5 184.5,563.5 185.0,563.5 185.5,563.5 186.0,563.5 186.5,563.4 187.0,563.4 187.5,563.4 188.0,563.4 188.5,563.4 189.0,563.4 189.5,563.4 190.0,563.4 190.5,563.4 191.0,563.4 191.5,563.4 192.0,563.4 192.5,563.4 193.0,563.3 193.5,563.3 194.0,563.3 194.5,563.3 195.0,563.3 195.5,563.3 196.0,563.3 196.5,563.3 197.0,563.3 197.5,563.3 198.0,563.3 198.5,563.2 199.0,563.2 199.5,563.2 200.0,563.2 200.5,563.2 201.0,563.2 201.5,563.2 202.0,563.2 202.5,563.2 203.0,563.2 203.5,563.1 204.0,563.1 204.5,563.1 205.0,563.1 205.5,563.1 206.0,563.1 206.5,563.1 207.0,563.1 207.5,563.0 208.0,563.0 208.5,563.0 209.0,563.0 209.5,563.0 210.0,563.0 210.5,563.0 211.0,562.9 211.5,562.9 212.0,562.9 212.5,562.9 213.0,562.9 213.5,562.9 214.0,562.9 214.5,562.8 215.0,562.8 215.5,562.8 216.0,562.8 216.5,562.8 217.0,562.7 217.5,562.7 218.0,562.7 218.5,562.7 219.0,562.7 219.5,562.6 220.0,562.6 220.5,562.6 221.0,562.6 221.5,562.6 222.0,562.5 222.5,562.5 223.0,562.5 223.5,562.5 224.0,562.4 224.5,562.4 225.0,562.4 225.5,562.3 226.0,562.3 226.5,562.3 227.0,562.2 227.5,562.2 228.0,562.2 228.5,562.1 229.0,562.1 229.5,562.0 230.0,562.0 230.5,561.9 231.0,561.9 231.5,561.8 232.0,561.8 232.5,561.7 233.0,561.7 233.5,561.6 234.0,561.5 234.5,561.5 235.0,561.4 235.5,561.3 236.0,561.3 236.5,561.2 237.0,561.1 237.5,561.0 238.0,560.9 238.5,560.8 239.0,560.7 239.5,560.6 240.0,560.5 240.5,560.4 241.0,560.3 241.5,560.2 242.0,560.1 242.5,559.9 243.0,559.8 243.5,559.7 244.0,559.5 244.5,559.4 245.0,559.2 245.5,559.1 246.0,558.9 246.5,558.7 247.0,558.5 247.5,558.3 248.0,558.1 248.5,557.9 249.0,557.6 249.5,557.4 250.0,557.1 250.5,556.8 251.0,556.5 251.5,556.1 252.0,555.7 252.5,555.3 253.0,554.9 253.5,554.4 254.0,553.9 254.5,553.4 255.0,552.8 255.5,552.2 256.0,551.6 256.5,550.9 257.0,550.1 257.5,549.3 258.0,548.5 258.5,547.6 259.0,546.7 259.5,545.8 260.0,544.7 260.5,543.7 261.0,542.6 261.5,541.4 262.0,540.2 262.5,538.9 263.0,537.6 263.5,536.3 264.0,534.9 264.5,533.4 265.0,531.9 265.5,530.4 266.0,528.9 266.5,527.3 267.0,525.7 267.5,524.1 268.0,522.4 268.5,520.8 269.0,519.2 269.5,517.6 270.0,516.1 270.5,514.6 271.0,513.1 271.5,511.7 272.0,510.4 272.5,509.1 273.0,508.0 273.5,506.9 274.0,505.8 274.5,504.9 275.0,504.0 275.5,503.1 276.0,502.2 276.5,501.4 277.0,500.5 277.5,499.7 278.0,498.8 278.5,497.9 279.0,496.9 279.5,495.9 280.0,494.9 280.5,493.8 281.0,492.7 281.5,491.6 282.0,490.4 282.5,489.3 283.0,488.1 283.5,486.9 284.0,485.7 284.5,484.4 285.0,483.1 285.5,481.7 286.0,480.1 286.5,478.2 287.0,476.1 287.5,473.6 288.0,470.8 288.5,467.8 289.0,464.4 289.5,460.8 290.0,457.1 290.5,453.4 291.0,449.8 291.5,446.2 292.0,442.8 292.5,439.6 293.0,436.5 293.5,433.3 294.0,430.2 294.5,427.1 295.0,424.1 295.5,421.5 296.0,419.2 296.5,417.2 297.0,415.6 297.5,414.6 298.0,414.4 298.5,414.9 299.0,416.1 299.5,417.6 300.0,419.0 300.5,420.3 301.0,421.5 301.5,422.5 302.0,423.5 302.5,424.4 303.0,425.4 303.5,426.4 304.0,427.7 304.5,429.3 305.0,431.1 305.5,433.2 306.0,435.4 306.5,437.7 307.0,440.1 307.5,442.2 308.0,444.2 308.5,445.9 309.0,447.3 309.5,448.5 310.0,449.3 310.5,449.9 311.0,450.3 311.5,450.4 312.0,450.3 312.5,449.9 313.0,449.3 313.5,448.5 314.0,447.5 314.5,446.2 315.0,445.0 315.5,443.7 316.0,442.6 316.5,441.8 317.0,441.2 317.5,441.0 318.0,441.1 318.5,441.5 319.0,442.0 319.5,442.9 320.0,443.9 320.5,445.3 321.0,446.9 321.5,448.8 322.0,451.1 322.5,453.7 323.0,456.5 323.5,459.5 324.0,462.8 324.5,466.1 325.0,469.5 325.5,472.9 326.0,476.3 326.5,479.7 327.0,483.1 327.5,486.6 328.0,490.0 328.5,493.5 329.0,497.0 329.5,500.6 330.0,504.2 330.5,507.9 331.0,511.5 331.5,515.1 332.0,518.7 332.5,522.2 333.0,525.6 333.5,528.7 334.0,531.7 334.5,534.5 335.0,537.1 335.5,539.4 336.0,541.5 336.5,543.4 337.0,545.1 337.5,546.6 338.0,547.9 338.5,549.1 339.0,550.2 339.5,551.1 340.0,551.9 340.5,552.7 341.0,553.3 341.5,553.9 342.0,554.5 342.5,555.0 343.0,555.4 343.5,555.8 344.0,556.2 344.5,556.6 345.0,556.9 345.5,557.2 346.0,557.5 346.5,557.7 347.0,558.0 347.5,558.2 348.0,558.4 348.5,558.6 349.0,558.8 349.5,559.0 350.0,559.2 350.5,559.4 351.0,559.5 351.5,559.7 352.0,559.8 352.5,560.0 353.0,560.1 353.5,560.2 354.0,560.3 354.5,560.5 355.0,560.6 355.5,560.7 356.0,560.8 356.5,560.9 357.0,561.0 357.5,561.1 358.0,561.2 358.5,561.3 359.0,561.4 359.5,561.4 360.0,561.5 360.5,561.6 361.0,561.7 361.5,561.8 362.0,561.8 362.5,561.9 363.0,562.0 363.5,562.0 364.0,562.1 364.5,562.1 365.0,562.2 365.5,562.3 366.0,562.3 366.5,562.4 367.0,562.4 367.5,562.5 368.0,562.5 368.5,562.6 369.0,562.6 369.5,562.7 370.0,562.7 370.5,562.8 371.0,562.8 371.5,562.8 372.0,562.9 372.5,562.9 373.0,563.0 373.5,563.0 374.0,563.0 374.5,563.1 375.0,563.1 375.5,563.1 376.0,563.2 376.5,563.2 377.0,563.2 377.5,563.3 378.0,563.3 378.5,563.3 379.0,563.4 379.5,563.4 380.0,563.4 380.5,563.4 381.0,563.5 381.5,563.5 382.0,563.5 382.5,563.5 383.0,563.6 383.5,563.6 384.0,563.6 384.5,563.6 385.0,563.7 385.5,563.7 386.0,563.7 386.5,563.7 387.0,563.7 387.5,563.8 388.0,563.8 388.5,563.8 389.0,563.8 389.5,563.8 390.0,563.9 390.5,563.9 391.0,563.9 391.5,563.9 392.0,563.9 392.5,563.9 393.0,564.0 393.5,564.0 394.0,564.0 394.5,564.0 395.0,564.0 395.5,564.0 396.0,564.1 396.5,564.1 397.0,564.1 397.5,564.1 398.0,564.1 398.5,564.1 399.0,564.1 399.5,564.1 400.0,564.2 400.5,564.2 401.0,564.2 401.5,564.2 402.0,564.2 402.5,564.2 403.0,564.2 403.5,564.2 404.0,564.3 404.5,564.3 405.0,564.3 405.5,564.3 406.0,564.3 406.5,564.3 407.0,564.3 407.5,564.3 408.0,564.3 408.5,564.3 409.0,564.4 409.5,564.4 410.0,564.4 410.5,564.4 411.0,564.4 411.5,564.4 412.0,564.4 412.5,564.4 413.0,564.4 413.5,564.4 414.0,564.4 414.5,564.5 415.0,564.5 415.5,564.5 416.0,564.5 416.5,564.5 417.0,564.5 417.5,564.5 418.0,564.5 418.5,564.5 419.0,564.5 419.5,564.5 420.0,564.5 420.5,564.5 421.0,564.5 421.5,564.6 422.0,564.6 422.5,564.6 423.0,564.6 423.5,564.6 424.0,564.6 424.5,564.6 425.0,564.6 425.5,564.6 426.0,564.6 426.5,564.6 427.0,564.6 427.5,564.6 428.0,564.6 428.5,564.6 429.0,564.6 429.5,564.7 430.0,564.7"/>
<polyline fill="none" stroke="#ff0000" stroke-width="1.4" points="167.0,563.7 167.5,563.6 168.0,563.6 168.5,563.6 169.0,563.6 169.5,563.6 170.0,563.6 170.5,563.6 171.0,563.6 171.5,563.6 172.0,563.6 172.5,563.6 173.0,563.6 173.5,563.6 174.0,563.6 174.5,563.6 175.0,563.6 175.5,563.6 176.0,563.6 176.5,563.6 177.0,563.6 177.5,563.6 178.0,563.5 178.5,563.5 179.0,563.5 179.5,563.5 180.0,563.5 180.5,563.5 181.0,563.5 181.5,563.5 182.0,563.5 182.5,563.5 183.0,563.5 183.5,563.5 184.0,563.5 184.5,563.5 185.0,563.5 185.5,563.5 186.0,563.5 186.5,563.4 187.0,563.4 187.5,563.4 188.0,563.4 188.5,563.4 189.0,563.4 189.5,563.4 190.0,563.4 190.5,563.4 191.0,563.4 191.5,563.4 192.0,563.4 192.5,563.4 193.0,563.3 193.5,563.3 194.0,563.3 194.5,563.3 195.0,563.3 195.5,563.3 196.0,563.3 196.5,563.3 197.0,563.3 197.5,563.3 198.0,563.3 198.5,563.2 199.0,563.2 199.5,563.2 200.0,563.2 200.5,563.2 201.0,563.2 201.5,563.2 202.0,563.2 202.5,563.2 203.0,563.2 203.5,563.1 204.0,563.1 204.5,563.1 205.0,563.1 205.5,563.1 206.0,563.1 206.5,563.1 207.0,563.1 207.5,563.0 208.0,563.0 208.5,563.0 209.0,563.0 209.5,563.0 210.0,563.0 210.5,563.0 211.0,562.9 211.5,562.9 212.0,562.9 212.5,562.9 213.0,562.9 213.5,562.9 214.0,562.9 214.5,562.8 215.0,562.8 215.5,562.8 216.0,562.8 216.5,562.8 217.0,562.7 217.5,562.7 218.0,562.7 218.5,562.7 219.0,562.7 219.5,562.6 220.0,562.6 220.5,562.6 221.0,562.6 221.5,562.6 222.0,562.5 222.5,562.5 223.0,562.5 223.5,562.5 224.0,562.4 224.5,562.4 225.0,562.4 225.5,562.4 226.0,562.3 226.5,562.3 227.0,562.3 227.5,562.3 228.0,562.2 228.5,562.2 229.0,562.2 229.5,562.1 230.0,562.1 230.5,562.1 231.0,562.0 231.5,562.0 232.0,562.0 232.5,561.9 233.0,561.9 233.5,561.8 234.0,561.8 234.5,561.8 235.0,561.7 235.5,561.7 236.0,561.6 236.5,561.6 237.0,561.5 237.5,561.5 238.0,561.4 238.5,561.4 239.0,561.3 239.5,561.3 240.0,561.2 240.5,561.1 241.0,561.1 241.5,561.0 242.0,560.9 242.5,560.8 243.0,560.8 243.5,560.7 244.0,560.6 244.5,560.5 245.0,560.4 245.5,560.3 246.0,560.1 246.5,560.0 247.0,559.8 247.5,559.7 248.0,559.5 248.5,559.3 249.0,559.1 249.5,558.9 250.0,558.6 250.5,558.3 251.0,558.0 251.5,557.7 252.0,557.3 252.5,556.9 253.0,556.5 253.5,556.0 254.0,555.5 254.5,555.0 255.0,554.4 255.5,553.7 256.0,553.1 256.5,552.3 257.0,551.6 257.5,550.8 258.0,549.9 258.5,549.0 259.0,548.0 259.5,547.0 260.0,545.9 260.5,544.7 261.0,543.6 261.5,542.3 262.0,541.0 262.5,539.6 263.0,538.2 263.5,536.8 264.0,535.2 264.5,533.7 265.0,532.0 265.5,530.4 266.0,528.7 266.5,526.9 267.0,525.2 267.5,523.4 268.0,521.5 268.5,519.7 269.0,517.9 269.5,516.1 270.0,514.4 270.5,512.6 271.0,511.0 271.5,509.4 272.0,507.8 272.5,506.4 273.0,505.1 273.5,503.8 274.0,502.6 274.5,501.5 275.0,500.5 275.5,499.5 276.0,498.6 276.5,497.7 277.0,496.8 277.5,496.0 278.0,495.1 278.5,494.2 279.0,493.3 279.5,492.5 280.0,491.5 280.5,490.6 281.0,489.6 281.5,488.6 282.0,487.7 282.5,486.7 283.0,485.7 283.5,484.6 284.0,483.6 284.5,482.5 285.0,481.4 285.5,480.1 286.0,478.7 286.5,477.0 287.0,475.0 287.5,472.6 288.0,470.0 288.5,467.0 289.0,463.8 289.5,460.3 290.0,456.7 290.5,453.0 291.0,449.4 291.5,445.9 292.0,442.6 292.5,439.4 293.0,436.3 293.5,433.2 294.0,430.1 294.5,427.0 295.0,424.1 295.5,421.5 296.0,419.5 296.5,418.0 297.0,417.0 297.5,416.6 298.0,416.7 298.5,417.3 299.0,418.3 299.5,419.7 300.0,421.5 300.5,423.4 301.0,425.6 301.5,427.8 302.0,430.1 302.5,432.3 303.0,434.5 303.5,436.6 304.0,438.5 304.5,440.3 305.0,441.9 305.5,443.3 306.0,444.6 306.5,445.7 307.0,446.7 307.5,447.5 308.0,448.2 308.5,448.9 309.0,449.4 309.5,449.9 310.0,450.2 310.5,450.5 311.0,450.6 311.5,450.6 312.0,450.5 312.5,450.1 313.0,449.6 313.5,449.0 314.0,448.2 314.5,447.3 315.0,446.4 315.5,445.4 316.0,444.5 316.5,443.8 317.0,443.1 317.5,442.7 318.0,442.5 318.5,442.5 319.0,442.8 319.5,443.3 320.0,444.2 320.5,445.4 321.0,447.0 321.5,448.9 322.0,451.1 322.5,453.7 323.0,456.5 323.5,459.5 324.0,462.8 324.5,466.1 325.0,469.5 325.5,472.9 326.0,476.3 326.5,479.7 327.0,483.1 327.5,486.6 328.0,490.0 328.5,493.5 329.0,497.0 329.5,500.6 330.0,504.2 330.5,507.9 331.0,511.5 331.5,515.1 332.0,518.7 332.5,522.2 333.0,525.6 333.5,528.7 334.0,531.7 334.5,534.5 335.0,537.1 335.5,539.4 336.0,541.5 336.5,543.4 337.0,545.1 337.5,546.6 338.0,547.9 338.5,549.1 339.0,550.2 339.5,551.1 340.0,551.9 340.5,552.7 341.0,553.3 341.5,553.9 342.0,554.5 342.5,555.0 343.0,555.4 343.5,555.8 344.0,556.2 344.5,556.6 345.0,556.9 345.5,557.2 346.0,557.5 346.5,557.7 347.0,558.0 347.5,558.2 348.0,558.4 348.5,558.6 349.0,558.8 349.5,559.0 350.0,559.2 350.5,559.4 351.0,559.5 351.5,559.7 352.0,559.8 352.5,560.0 353.0,560.1 353.5,560.2 354.0,560.3 354.5,560.5 355.0,560.6 355.5,560.7 356.0,560.8 356.5,560.9 357.0,561.0 357.5,561.1 358.0,561.2 358.5,561.3 359.0,561.4 359.5,561.4 360.0,561.5 360.5,561.6 361.0,561.7 361.5,561.8 362.0,561.8 362.5,561.9 363.0,562.0 363.5,562.0 364.0,562.1 364.5,562.1 365.0,562.2 365.5,562.3 366.0,562.3 366.5,562.4 367.0,562.4 367.5,562.5 368.0,562.5 368.5,562.6 369.0,562.6 369.5,562.7 370.0,562.7 370.5,562.8 371.0,562.8 371.5,562.8 372.0,562.9 372.5,562.9 373.0,563.0 373.5,563.0 374.0,563.0 374.5,563.1 375.0,563.1 375.5,563.1 376.0,563.2 376.5,563.2 377.0,563.2 377.5,563.3 378.0,563.3 378.5,563.3 379.0,563.4 379.5,563.4 380.0,563.4 380.5,563.4 381.0,563.5 381.5,563.5 382.0,563.5 382.5,563.5 383.0,563.6 383.5,563.6 384.0,563.6 384.5,563.6 385.0,563.7 385.5,563.7 386.0,563.7 386.5,563.7 387.0,563.7 387.5,563.8 388.0,563.8 388.5,563.8 389.0,563.8 389.5,563.8 390.0,563.9 390.5,563.9 391.0,563.9 391.5,563.9 392.0,563.9 392.5,563.9 393.0,564.0 393.5,564.0 394.0,564.0 394.5,564.0 395.0,564.0 395.5,564.0 396.0,564.1 396.5,564.1 397.0,564.1 397.5,564.1 398.0,564.1 398.5,564.1 399.0,564.1 399.5,564.1 400.0,564.2 400.5,564.2 401.0,564.2 401.5,564.2 402.0,564.2 402.5,564.2 403.0,564.2 403.5,564.2 404.0,564.3 404.5,564.3 405.0,564.3 405.5,564.3 406.0,564.3 406.5,564.3 407.0,564.3 407.5,564.3 408.0,564.3 408.5,564.3 409.0,564.4 409.5,564.4 410.0,564.4 410.5,564.4 411.0,564.4 411.5,564.4 412.0,564.4 412.5,564.4 413.0,564.4 413.5,564.4 414.0,564.4 414.5,564.5 415.0,564.5 415.5,564.5 416.0,564.5 416.5,564.5 417.0,564.5 417.5,564.5 418.0,564.5 418.5,564.5 419.0,564.5 419.5,564.5 420.0,564.5 420.5,564.5 421.0,564.5 421.5,564.6 422.0,564.6 422.5,564.6 423.0,564.6 423.5,564.6 424.0,564.6 424.5,564.6 425.0,564.6 425.5,564.6 426.0,564.6 426.5,564.6 427.0,564.6 427.5,564.6 428.0,564.6 428.5,564.6 429.0,564.6 429.5,564.7 430.0,564.7"/>
<path d="M298.1 401.4V430.0" stroke="#000" stroke-width="2.2"/>
<text transform="translate(293.47 396.80) scale(1.000 1)" class="s" font-size="14.5">0</text>
<path d="M307.8 427.6V455.5" stroke="#000" stroke-width="2.2"/>
<path transform="translate(304.27 419.30) scale(0.01450 -0.01450)" d="M246 0V498H72V588C176 590 262 640 288 716H392V0Z" stroke="#000" stroke-width="10" stroke-linejoin="round"/>
<path d="M320.3 434.1V462.3" stroke="#000" stroke-width="2.2"/>
<text transform="translate(317.47 429.60) scale(1.000 1)" class="s" font-size="14.5">2</text>
<path d="M347.6 476.8H386.8" stroke="#000" stroke-width="1.6"/>
<path d="M347.6 501H386.8" stroke="#f00" stroke-width="1.6"/>
<text transform="translate(396.8 482.8) scale(1.16 1)" class="m" font-size="18">Exp.</text>
<text transform="translate(396.8 506.8) scale(1.16 1)" class="m" font-size="18">Total fit</text>
<text transform="translate(168.3 608.9) scale(1.10 1)" class="m" font-size="18.8">Relative Binding Energy (eV)</text>
</svg>
</body></html>
